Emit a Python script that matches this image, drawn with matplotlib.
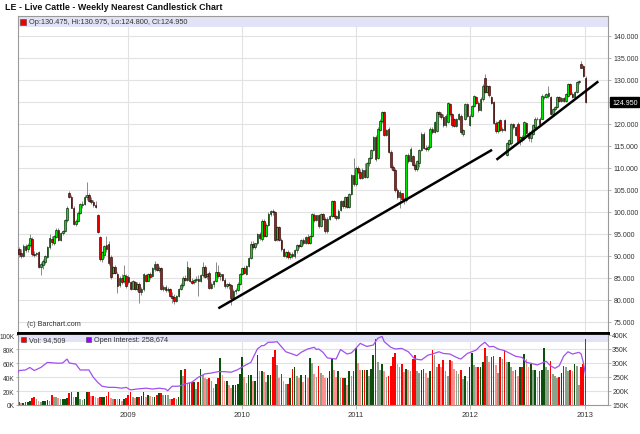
import matplotlib
matplotlib.use("Agg")
import matplotlib.pyplot as plt
import matplotlib.dates as mdates
import matplotlib.transforms as mtransforms
from matplotlib.patches import Rectangle
import numpy as np
import pandas as pd

plt.rcParams['font.family'] = ['Liberation Sans', 'DejaVu Sans']

title = "LE - Live Cattle - Weekly Nearest Candlestick Chart"
first_week = "2008-01-18"

# weekly OHLC, one row per year (2008 starts late January, 2012 runs into the first week of 2013)
opens = [
    91.5, 90.6, 90.0, 92.2, 91.6, 92.4, 93.9, 90.5, 90.4, 90.8, 87.5, 88.0, 88.6, 89.8, 92.0, 93.8, 93.0, 94.3, 96.0, 93.7,
    95.2, 95.7, 98.2, 104.3, 103.5, 101.0, 97.3, 98.0, 99.8, 101.6, 101.8, 103.3, 103.9, 102.6, 102.2, 101.6, 99.2, 94.2, 89.2, 90.3,
    92.5, 92.8, 89.8, 86.2, 87.4, 86.0, 83.4, 85.0, 84.2, 85.4,
    85.2, 84.0, 82.6, 84.0, 82.5, 83.6, 81.8, 82.4, 85.7, 84.4, 85.8, 85.4, 87.0, 88.1, 86.9, 87.2, 82.6, 83.0, 82.3, 82.4,
    81.0, 80.6, 79.8, 80.9, 82.5, 83.3, 85.0, 84.6, 87.2, 84.4, 84.0, 84.5, 84.8, 84.3, 85.6, 87.6, 85.4, 86.1, 82.8, 83.6,
    84.3, 86.4, 85.4, 85.8, 84.5, 83.2, 83.6, 83.3, 80.5, 82.0, 82.3, 83.7,
    85.9, 87.2, 86.0, 87.8, 89.6, 92.8, 92.0, 92.9, 95.0, 93.8, 98.0, 94.6, 97.1, 99.6, 100.2, 99.9, 93.8, 96.5, 93.6, 91.5,
    90.1, 90.9, 89.7, 90.5, 89.9, 91.3, 92.4, 92.2, 93.6, 92.9, 94.4, 93.0, 94.5, 99.4, 98.2, 99.2, 96.8, 99.5, 98.5, 95.6,
    98.5, 99.0, 102.4, 99.0, 98.6, 100.4, 102.4, 101.3, 103.3, 101.2, 104.1, 108.4,
    106.4, 110.0, 109.0, 107.8, 109.6, 108.0, 111.0, 112.2, 114.0, 117.0, 112.2, 118.6, 120.6, 122.6, 117.5, 118.9, 113.7, 110.1, 109.6, 104.9,
    103.4, 104.2, 102.9, 102.6, 112.9, 111.6, 112.6, 110.7, 109.8, 111.0, 114.0, 117.8, 114.5, 114.2, 114.8, 118.9, 118.2, 118.4, 122.6, 122.2,
    121.6, 119.7, 120.4, 124.6, 122.2, 121.0, 119.6, 121.0, 121.9, 117.8, 121.0, 124.4,
    119.8, 121.9, 124.0, 126.0, 124.8, 123.2, 125.6, 130.5, 127.3, 128.6, 126.2, 125.0, 120.3, 118.3, 120.8, 118.7, 120.8, 113.0, 115.4, 115.6,
    120.0, 119.2, 120.0, 116.1, 117.0, 116.7, 120.2, 117.9, 116.7, 117.8, 119.3, 121.2, 121.2, 121.2, 126.0, 126.2, 126.4, 126.0, 122.3, 123.4,
    123.8, 126.0, 125.3, 125.9, 125.3, 126.4, 129.0, 126.8, 126.0, 127.2, 129.4, 133.5, 133.1, 130.475,
]
highs = [
    92.0, 91.5, 92.8, 92.7, 93.0, 95.0, 94.3, 91.2, 91.0, 91.2, 88.6, 89.2, 90.2, 92.3, 95.0, 94.6, 94.8, 96.3, 96.4, 95.5,
    96.0, 98.5, 101.4, 104.8, 103.8, 101.3, 98.4, 100.2, 102.0, 102.4, 103.8, 106.9, 104.3, 103.4, 102.6, 102.4, 99.6, 94.6, 91.2, 92.6,
    94.6, 93.4, 90.3, 87.8, 87.9, 86.4, 85.4, 86.0, 88.0, 85.8,
    85.6, 84.4, 84.6, 84.3, 84.0, 84.0, 83.0, 86.2, 86.0, 86.2, 86.4, 87.4, 88.8, 88.4, 87.8, 87.6, 83.4, 83.4, 83.0, 82.8,
    81.8, 81.3, 81.2, 82.8, 83.8, 85.4, 85.6, 88.8, 87.6, 85.0, 84.8, 85.4, 85.6, 86.0, 88.6, 88.0, 86.2, 86.5, 84.0, 84.6,
    88.6, 88.0, 86.4, 86.0, 84.9, 83.9, 84.0, 83.6, 82.4, 82.8, 84.0, 86.2,
    87.6, 87.8, 88.0, 89.8, 93.3, 93.4, 93.0, 95.3, 95.4, 98.4, 98.3, 97.4, 99.9, 100.5, 100.6, 100.2, 96.9, 96.8, 94.0, 91.8,
    91.2, 91.3, 90.8, 90.8, 91.6, 92.7, 92.8, 93.8, 94.0, 94.6, 94.9, 94.8, 99.8, 99.8, 99.4, 99.5, 99.8, 99.8, 98.8, 98.8,
    99.3, 102.7, 102.8, 99.4, 100.6, 102.7, 102.8, 103.6, 103.6, 104.4, 108.7, 112.2,
    110.4, 110.4, 109.8, 109.9, 111.0, 111.3, 112.5, 114.4, 117.3, 117.4, 119.2, 121.0, 123.0, 122.9, 118.8, 119.2, 114.0, 110.6, 110.0, 105.4,
    105.0, 104.4, 103.4, 113.2, 113.4, 114.7, 113.0, 111.2, 111.8, 114.3, 118.1, 118.1, 115.2, 115.2, 119.2, 119.4, 120.7, 122.9, 123.0, 122.6,
    122.2, 122.2, 125.0, 124.8, 122.5, 121.3, 121.4, 122.5, 122.2, 118.8, 124.7, 124.7,
    122.2, 124.3, 126.6, 126.3, 125.1, 126.0, 129.0, 131.3, 128.9, 128.9, 126.4, 125.3, 120.6, 120.7, 121.0, 119.4, 121.0, 115.9, 116.6, 120.2,
    120.3, 119.5, 120.4, 117.3, 117.4, 120.7, 120.5, 118.4, 118.5, 120.0, 121.5, 121.5, 121.5, 126.7, 126.6, 127.1, 128.7, 126.3, 123.7, 124.0,
    126.3, 126.4, 126.2, 126.2, 127.1, 129.2, 129.3, 127.3, 127.5, 129.7, 130.0, 134.3, 133.4, 130.975,
]
lows = [
    89.8, 89.6, 89.8, 91.0, 91.0, 92.0, 90.0, 89.8, 90.0, 87.2, 85.7, 87.0, 88.2, 89.5, 91.6, 92.6, 92.6, 94.0, 93.3, 93.4,
    94.8, 95.4, 97.8, 103.2, 100.8, 97.0, 96.8, 97.8, 99.5, 101.0, 101.5, 102.8, 102.2, 101.8, 101.2, 100.8, 95.2, 88.8, 88.6, 89.6,
    91.0, 88.0, 84.8, 85.8, 85.8, 81.6, 83.0, 83.6, 83.8, 82.8,
    83.6, 82.2, 82.4, 82.2, 82.0, 79.4, 81.2, 82.0, 84.0, 84.2, 84.8, 85.2, 86.6, 86.5, 86.4, 82.2, 82.0, 81.8, 81.8, 80.6,
    79.3, 79.0, 79.5, 80.6, 82.2, 83.0, 84.2, 84.4, 84.0, 83.6, 83.6, 84.0, 81.0, 84.0, 85.2, 85.0, 84.8, 82.5, 82.4, 83.0,
    84.0, 85.0, 84.6, 84.2, 82.8, 82.8, 82.6, 78.9, 80.2, 81.4, 82.0, 83.4,
    85.6, 85.8, 85.6, 87.5, 89.3, 91.6, 91.6, 92.6, 93.6, 93.5, 94.2, 94.3, 96.8, 99.0, 99.2, 93.4, 93.5, 93.3, 91.2, 89.8,
    89.6, 89.4, 89.2, 89.5, 89.6, 90.6, 91.8, 92.0, 92.6, 92.7, 92.7, 92.8, 94.3, 97.8, 97.9, 96.4, 96.6, 98.2, 95.3, 95.3,
    98.2, 98.8, 98.6, 98.2, 98.3, 100.2, 101.0, 101.0, 100.8, 101.0, 103.8, 106.0,
    106.0, 108.6, 107.4, 107.5, 107.6, 107.8, 110.5, 112.0, 113.8, 111.6, 112.0, 118.3, 120.2, 117.2, 117.2, 113.4, 109.8, 109.2, 104.6, 103.0,
    101.0, 102.6, 101.8, 102.3, 111.2, 111.4, 110.4, 109.4, 109.4, 110.2, 113.8, 114.2, 113.8, 113.8, 114.6, 117.8, 117.9, 118.1, 121.6, 121.2,
    119.4, 119.4, 120.2, 121.9, 119.4, 119.3, 119.4, 120.8, 117.8, 117.2, 120.8, 121.6,
    119.5, 121.6, 123.8, 124.5, 122.8, 123.0, 125.3, 127.0, 127.0, 126.2, 124.4, 120.0, 118.0, 118.0, 118.4, 118.2, 118.4, 112.6, 114.8, 115.3,
    118.8, 117.2, 115.8, 115.2, 115.9, 116.4, 117.6, 116.2, 115.8, 117.5, 119.0, 120.8, 119.7, 121.0, 125.6, 125.8, 125.8, 122.0, 122.0, 123.0,
    123.5, 125.0, 124.9, 125.0, 125.0, 126.1, 126.5, 125.8, 125.7, 127.0, 129.0, 132.6, 130.6, 124.8,
]
closes = [
    90.5, 89.9, 92.3, 91.4, 92.6, 94.0, 90.4, 90.3, 90.6, 87.6, 88.2, 88.8, 89.9, 92.0, 94.0, 93.2, 94.5, 96.0, 93.6, 95.2,
    95.7, 98.2, 101.0, 103.5, 101.0, 97.3, 98.0, 99.8, 101.7, 101.8, 103.5, 103.9, 102.5, 102.2, 101.5, 101.1, 95.4, 89.2, 90.9, 92.3,
    91.5, 88.3, 85.2, 87.5, 86.1, 83.2, 85.0, 84.0, 85.6, 83.2,
    84.0, 82.5, 84.2, 82.5, 83.6, 81.8, 82.6, 85.8, 84.3, 85.9, 85.2, 87.2, 88.1, 86.8, 87.3, 82.5, 83.0, 82.2, 82.6, 80.9,
    80.4, 79.8, 80.9, 82.5, 83.5, 85.1, 84.6, 87.4, 84.3, 83.9, 84.5, 84.8, 84.3, 85.7, 87.4, 85.3, 86.0, 82.8, 83.7, 84.3,
    86.4, 85.4, 85.8, 84.5, 83.1, 83.6, 83.3, 80.5, 82.1, 82.3, 83.7, 85.9,
    87.2, 86.2, 87.8, 89.6, 92.8, 92.0, 92.9, 95.0, 94.0, 98.0, 94.5, 97.1, 99.6, 100.2, 99.9, 93.7, 96.5, 93.6, 91.5, 90.1,
    90.9, 89.7, 90.5, 89.9, 91.4, 92.4, 92.2, 93.6, 92.9, 94.4, 93.0, 94.5, 99.5, 98.2, 99.2, 96.7, 99.5, 98.5, 95.6, 98.5,
    99.0, 102.4, 99.0, 98.6, 100.3, 102.4, 101.3, 103.3, 101.1, 104.1, 108.3, 106.4,
    110.0, 109.0, 107.8, 109.6, 108.0, 111.0, 112.2, 114.0, 117.0, 112.0, 118.8, 120.6, 122.6, 117.5, 118.5, 113.7, 110.1, 109.6, 104.9, 103.4,
    104.6, 102.9, 102.6, 112.9, 111.5, 114.4, 110.7, 109.8, 111.5, 114.0, 117.8, 114.5, 114.2, 114.8, 118.9, 118.2, 120.4, 122.6, 122.2, 121.5,
    119.7, 121.9, 124.8, 122.2, 119.7, 119.6, 121.1, 122.2, 118.1, 118.5, 124.4, 121.9,
    121.9, 124.0, 126.3, 124.8, 123.1, 125.6, 128.7, 127.3, 128.6, 126.5, 124.7, 120.3, 118.3, 120.4, 118.7, 118.9, 118.7, 115.6, 116.3, 120.0,
    119.2, 117.5, 116.1, 117.0, 116.4, 120.4, 117.9, 116.7, 118.2, 119.7, 121.2, 121.0, 120.0, 126.4, 126.2, 126.8, 126.9, 122.3, 123.4, 123.8,
    126.0, 125.3, 125.9, 125.3, 126.8, 129.0, 126.8, 126.1, 127.2, 129.4, 129.7, 132.8, 130.9, 124.95,
]

# weekly volume, thousands of contracts
volume_k = [
    4, 3, 3, 4, 5, 6, 10, 11, 8, 6, 5, 6, 6, 7, 6, 15, 12, 11, 10, 9, 9, 9, 10, 17, 19, 12, 12, 18, 8, 7,
    8, 19, 19, 13, 13, 12, 10, 12, 12, 12, 13, 18, 10, 8, 9, 8, 8, 6, 8, 10,
    15, 18, 12, 10, 12, 12, 13, 18, 12, 15, 13, 12, 12, 14, 17, 17, 15, 15, 14, 8, 8, 10, 9, 12, 50, 42,
    52, 32, 32, 33, 33, 23, 33, 51, 43, 38, 37, 38, 35, 25, 30, 38, 67, 43, 34, 34, 28, 25, 28, 28, 30, 45,
    68, 40, 32, 43, 43, 35, 35, 71, 48, 49, 47, 33, 43, 43, 68, 79, 57, 39, 44, 35, 30, 30, 38, 52, 54, 41,
    38, 43, 33, 43, 38, 67, 60, 45, 40, 56, 46, 43, 38, 38, 48, 66, 50, 40, 49, 38, 38, 38, 28, 48, 42, 48,
    81, 60, 50, 50, 50, 50, 41, 52, 72, 94, 62, 50, 58, 49, 40, 41, 56, 69, 74, 58, 54, 59, 47, 52, 50, 49,
    66, 71, 48, 46, 50, 51, 46, 39, 48, 78, 71, 54, 59, 55, 64, 48, 42, 64, 63, 51, 48, 44, 50, 37, 42, 35,
    54, 75, 57, 54, 55, 55, 61, 82, 70, 61, 68, 70, 57, 46, 68, 66, 78, 61, 61, 55, 49, 50, 41, 54, 54, 73, 66,
    54, 59, 50, 50, 40, 48, 50, 82, 54, 50, 63, 44, 42, 39, 40, 46, 56, 54, 48, 50, 49, 59, 56, 29, 54, 59, 94.5,
]

# open interest read at points along its line (week number from first_week, thousands)
oi_week = [-1, 0, 3, 5, 7, 10, 13, 18, 20, 22, 23, 26, 28, 32, 34, 36, 38, 41, 44, 47, 49, 51, 54, 58, 61, 64,
           67, 68, 70, 73, 76, 79, 82, 85, 88, 91, 94, 97, 100, 103, 106, 109, 111, 112, 114, 116, 118, 120,
           122, 125, 127, 129, 132, 135, 136, 137, 139, 141, 145, 147, 150, 152, 154, 156, 159, 162, 164, 166,
           167, 170, 172, 175, 178, 181, 184, 187, 189, 192, 194, 197, 200, 202, 205, 207, 209, 211, 213, 215,
           217, 219, 222, 225, 227, 230, 232, 234, 237, 241, 243, 245, 247, 249, 251, 253, 256, 257, 258, 259]
oi_k = [257, 273, 275, 284, 273, 284, 302, 299, 300, 314, 300, 296, 275, 275, 249, 231, 217, 213, 213, 210, 213,
        204, 207, 210, 207, 210, 207, 201, 217, 217, 225, 231, 249, 261, 264, 269, 269, 267, 276, 290, 302, 350,
        362, 362, 374, 374, 376, 358, 340, 332, 326, 338, 350, 356, 348, 350, 338, 318, 314, 348, 332, 336, 352,
        370, 359, 364, 388, 395, 376, 356, 350, 352, 340, 314, 311, 328, 332, 340, 334, 332, 320, 314, 334, 340,
        346, 362, 374, 358, 359, 350, 344, 332, 324, 320, 302, 299, 293, 306, 290, 281, 290, 324, 340, 332, 338,
        332, 302, 258.674]

price_ticks = list(range(75, 145, 5))
vol_ticks = [0, 20, 40, 60, 80, 100]
oi_ticks = [150, 200, 250, 300, 350, 400]

# hand-drawn trend lines (date, price) -> (date, price)
trend_from = ["2009-10-17", "2012-03-25"]
trend_from_px = [78.1, 111.85]
trend_to = ["2012-03-11", "2013-02-14"]
trend_to_px = [114.1, 129.65]

W, H = 640, 435
fig = plt.figure(figsize=(W / 100, H / 100), dpi=100)


def box(l, t, r, b):
    return [l / W, 1 - b / H, (r - l) / W, (b - t) / H]


ax = fig.add_axes(box(18, 17, 608, 334))
axv = fig.add_axes(box(18, 334, 608, 406), sharex=ax)
axo = axv.twinx()

o, h, l, c = (np.array(v, dtype=float) for v in (opens, highs, lows, closes))
vol = np.array(volume_k, dtype=float)
assert len(o) == len(h) == len(l) == len(c) == len(vol)
weeks = pd.date_range(first_week, periods=len(c), freq="7D")
x = mdates.date2num(weeks)

# candles
up = c >= o
body = c - o
body = np.where(np.abs(body) < 0.15, np.where(up, 0.15, -0.15), body)
ax.vlines(x, l, h, color="#8a8a8a", lw=0.7, zorder=3)
ax.bar(x, body, bottom=o, width=5.2, color=["#00e600" if u else "#e60000" for u in up],
       edgecolor="black", linewidth=0.4, zorder=4)

for a, pa, b, pb in zip(trend_from, trend_from_px, trend_to, trend_to_px):
    ax.plot(mdates.date2num([pd.Timestamp(a), pd.Timestamp(b)]), [pa, pb],
            color="black", lw=1.8, solid_capstyle="butt", zorder=5)

ax.set_xlim(mdates.date2num(pd.Timestamp("2008-01-15")), mdates.date2num(pd.Timestamp("2013-03-17")))
ax.set_ylim(72.5, 144.5)
ax.yaxis.tick_right()
ax.set_yticks(price_ticks)
ax.set_yticklabels(["" if v == 125 else f"{v:.3f}" for v in price_ticks])
ax.xaxis.set_major_locator(mdates.YearLocator())
ax.grid(True, color="#e2e2e2", lw=0.8)
ax.set_axisbelow(True)
ax.tick_params(axis="x", bottom=False, labelbottom=False)
ax.tick_params(axis="y", labelsize=5, length=2.5, width=0.5, pad=1.5, color="#999999", labelcolor="#333333")
for s in ax.spines.values():
    s.set_color("#9a9a9a")
    s.set_linewidth(0.8)
ax.spines["bottom"].set_color("black")
ax.spines["bottom"].set_linewidth(2)

ax.add_patch(Rectangle((0, 1 - 11 / 317), 1, 11 / 317, transform=ax.transAxes,
                       facecolor="#e3e3f7", edgecolor="none", zorder=1))

trans = mtransforms.blended_transform_factory(ax.transAxes, ax.transData)
ax.text(1 + 4 / 590, c[-1], f"{c[-1]:.3f}", transform=trans, fontsize=5, color="white",
        ha="left", va="center", clip_on=False,
        bbox=dict(boxstyle="square,pad=0.25", fc="black", ec="black"))

# volume + open interest
prev = np.concatenate([[vol[0]], vol[:-1]])
vcolors = [("#0b4f0b" if v >= p else "#8aa38a") if u else ("#ff0000" if v >= p else "#ff8f8f")
           for u, v, p in zip(up, vol, prev)]
axv.add_patch(Rectangle((0, 1 - 9 / 72), 1, 9 / 72, transform=axv.transAxes,
                        facecolor="#e3e3f7", edgecolor="none", zorder=1))
axv.bar(x, vol, width=5.4, color=vcolors, zorder=2)
axv.set_ylim(0, 103)
axv.set_yticks(vol_ticks)
axv.set_yticklabels([f"{v}K" for v in vol_ticks])
axv.grid(True, color="#e2e2e2", lw=0.8)
axv.set_axisbelow(True)
axv.xaxis.set_major_formatter(mdates.DateFormatter("%Y"))
axv.tick_params(axis="x", labelsize=5.5, length=3, width=0.5, pad=1.5, color="#999999", labelcolor="#333333")
axv.tick_params(axis="y", labelsize=4.8, length=1.5, width=0.5, pad=1, color="#999999", labelcolor="#333333")
for s in axv.spines.values():
    s.set_color("#9a9a9a")
    s.set_linewidth(0.8)
axv.spines["top"].set_color("black")
axv.spines["top"].set_linewidth(2)

oi_x = mdates.date2num(pd.Timestamp(first_week)) + 7 * np.array(oi_week)
axo.plot(oi_x, oi_k, color="#a050f0", lw=0.9, zorder=3)
axo.set_ylim(150, 407)
axo.set_yticks(oi_ticks)
axo.set_yticklabels([f"{v}K" for v in oi_ticks])
axo.tick_params(axis="y", labelsize=5, length=2, width=0.5, pad=1, color="#999999", labelcolor="#333333")
axo.set_frame_on(False)

# header and legends
fig.text(5 / W, 1 - 7.5 / H, title, fontsize=6.4, weight="bold", va="center", color="#111111")
fig.add_artist(Rectangle((20 / W, 1 - 26 / H), 6 / W, 6 / H, transform=fig.transFigure,
                         facecolor="#ee0000", edgecolor="#444444", lw=0.4))
fig.text(29 / W, 1 - 23 / H, "Op:130.475, Hi:130.975, Lo:124.800, Cl:124.950",
         fontsize=5.3, va="center", color="#333333")
fig.text(27 / W, 1 - 325 / H, "(c) Barchart.com", fontsize=5.2, va="center", color="#333333")
fig.add_artist(Rectangle((21 / W, 1 - 343 / H), 5 / W, 5 / H, transform=fig.transFigure,
                         facecolor="#ee0000", edgecolor="#444444", lw=0.4))
fig.text(29 / W, 1 - 340.5 / H, "Vol: 94,509", fontsize=5.2, va="center", color="#333333")
fig.add_artist(Rectangle((86 / W, 1 - 343 / H), 5 / W, 5 / H, transform=fig.transFigure,
                         facecolor="#9900ff", edgecolor="#444444", lw=0.4))
fig.text(94 / W, 1 - 340.5 / H, "Open Interest: 258,674", fontsize=5.2, va="center", color="#333333")

fig.savefig("out.png", dpi=100)
